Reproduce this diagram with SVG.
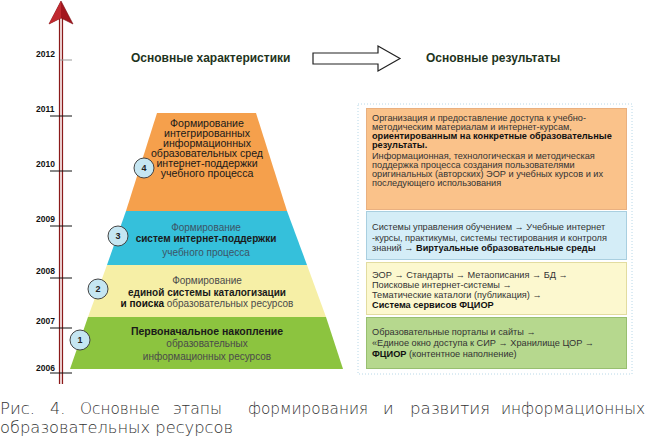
<svg xmlns="http://www.w3.org/2000/svg" width="650" height="440" viewBox="0 0 650 440">
<style>
.yr{font-family:"Liberation Sans",Arial,sans-serif;font-size:8.5px;font-weight:bold;fill:#111}
.tick{stroke:#111;stroke-width:1}
.hd{font-family:"Liberation Sans",Arial,sans-serif;font-size:12px;font-weight:bold;fill:#1e3320}
.pt{font-family:"Liberation Sans",Arial,sans-serif;text-anchor:middle}
.po{font-size:10.6px;fill:#1a1a1a}
.pr{font-size:10px;fill:#4a4a4a}
.pb{font-size:10px;font-weight:bold;fill:#1a1a1a}
.num{font-family:"Liberation Sans",Arial,sans-serif;font-size:9px;font-weight:bold;fill:#222;text-anchor:middle}
.circ{fill:#c5e6f2;stroke:#444;stroke-width:1}
.rt{font-family:"Liberation Sans",Arial,sans-serif;font-size:9.2px;fill:#333}
.b{font-weight:bold;fill:#111}
.cap{font-family:"DejaVu Sans","Liberation Sans",sans-serif;font-size:16px;fill:#333;font-weight:300}
</style>

<g id="timeline">
  <rect x="59" y="18" width="4" height="366" fill="#f4e3e3"/>
  <line x1="59.5" y1="18" x2="59.5" y2="384" stroke="#8b1a1a" stroke-width="1.2"/>
  <line x1="62.5" y1="18" x2="62.5" y2="384" stroke="#8b1a1a" stroke-width="1.2"/>
  <path d="M61,1 L73,24 L61,18 L49,24 Z" fill="#a3161e" stroke="#7a0f14" stroke-width="0.6"/>
  <path d="M61,1 L61,18 L49,24 Z" fill="#c02a30"/>
  <line x1="60" y1="60" x2="72" y2="60" stroke="#999" stroke-width="1"/>
  <line class="tick" x1="50" y1="116" x2="72" y2="116"/>
  <line class="tick" x1="50" y1="171" x2="72" y2="171"/>
  <line class="tick" x1="50" y1="226" x2="72" y2="226"/>
  <line class="tick" x1="50" y1="278" x2="72" y2="278"/>
  <line class="tick" x1="50" y1="328" x2="72" y2="328"/>
  <line class="tick" x1="50" y1="373" x2="72" y2="373"/>
  <text class="yr" x="36" y="57">2012</text>
  <text class="yr" x="36" y="112">2011</text>
  <text class="yr" x="36" y="167">2010</text>
  <text class="yr" x="36" y="222">2009</text>
  <text class="yr" x="36" y="274">2008</text>
  <text class="yr" x="36" y="324">2007</text>
  <text class="yr" x="36" y="371">2006</text>
</g>

<g id="header-left"><text class="hd" x="131" y="62">Основные характеристики</text></g>
<g id="header-right"><text class="hd" x="426" y="62">Основные результаты</text></g>

<g id="connectors">
  <polygon points="313,53 378,53 378,46 400,58.5 378,71 378,64 313,64" fill="#fff" stroke="#222" stroke-width="1.2"/>
</g>

<g id="stage4">
  <polygon points="157,113 256,113 287,211 126,211" fill="#f5a04c"/>
  <text class="pt po" x="207" y="127">Формирование</text>
  <text class="pt po" x="207" y="137">интегрированных</text>
  <text class="pt po" x="207" y="147">информационных</text>
  <text class="pt po" x="207" y="157">образовательных сред</text>
  <text class="pt po" x="207" y="167">интернет-поддержки</text>
  <text class="pt po" x="207" y="177">учебного процесса</text>
  <circle class="circ" cx="144" cy="168" r="10"/>
  <text class="num" x="144" y="171">4</text>
</g>

<g id="stage3">
  <polygon points="126,211 287,211 307,265 107,265" fill="#35c0db"/>
  <text class="pt pr" x="206" y="231" style="fill:#3c5466">Формирование</text>
  <text class="pt pb" x="206" y="242">систем интернет-поддержки</text>
  <text class="pt pr" x="206" y="255.5" style="fill:#3c5466">учебного  процесса</text>
  <circle class="circ" cx="118" cy="236" r="10"/>
  <text class="num" x="118" y="239">3</text>
</g>

<g id="stage2">
  <polygon points="107,265 307,265 326,317 88,317" fill="#f6efa6"/>
  <text class="pt pr" x="207" y="284">Формирование</text>
  <text class="pt pb" x="207" y="296">единой системы каталогизации</text>
  <text class="pt pr" x="207" y="307"><tspan class="b">и поиска</tspan> образовательных ресурсов</text>
  <circle class="circ" cx="98" cy="289" r="10"/>
  <text class="num" x="98" y="292">2</text>
</g>

<g id="stage1">
  <polygon points="88,317 326,317 343,369 70,369" fill="#8cc43f"/>
  <text class="pt pb" x="207" y="335" style="font-size:10.5px">Первоначальное накопление</text>
  <text class="pt pr" x="207" y="347">образовательных</text>
  <text class="pt pr" x="207" y="360">информационных ресурсов</text>
  <circle class="circ" cx="80" cy="340" r="10"/>
  <text class="num" x="80" y="343">1</text>
</g>

<rect x="358" y="104" width="274" height="270" fill="none" stroke="#b8d8e8" stroke-width="1" stroke-dasharray="1,2"/>

<g id="result4">
  <rect x="366.5" y="108.5" width="260" height="101" fill="#fac28a" stroke="#e9b080" stroke-width="1"/>
  <text class="rt" x="372" y="121">Организация и предоставление доступа к учебно-</text>
  <text class="rt" x="372" y="130">методическим материалам и интернет-курсам,</text>
  <text class="rt b" x="372" y="139">ориентированным на конкретные образовательные</text>
  <text class="rt b" x="372" y="148">результаты.</text>
  <text class="rt" x="372" y="158.5">Информационная, технологическая и методическая</text>
  <text class="rt" x="372" y="167.5">поддержка процесса создания пользователями</text>
  <text class="rt" x="372" y="176.5">оригинальных (авторских) ЭОР и учебных курсов и их</text>
  <text class="rt" x="372" y="185.5">последующего использования</text>
</g>

<g id="result3">
  <rect x="366.5" y="211.5" width="260" height="48" fill="#d4edf7" stroke="#a9cfe0" stroke-width="1"/>
  <text class="rt" x="372" y="230">Системы управления обучением → Учебные интернет</text>
  <text class="rt" x="372" y="240.5">-курсы, практикумы, системы тестирования и контроля</text>
  <text class="rt" x="372" y="251">знаний → <tspan class="b">Виртуальные образовательные среды</tspan></text>
</g>

<g id="result2">
  <rect x="366.5" y="262.5" width="260" height="52" fill="#fcf8cf" stroke="#e2dca0" stroke-width="1"/>
  <text class="rt" x="372" y="278">ЭОР → Стандарты → Метаописания → БД →</text>
  <text class="rt" x="372" y="288">Поисковые интернет-системы →</text>
  <text class="rt" x="372" y="298">Тематические каталоги (публикация) →</text>
  <text class="rt b" x="372" y="308">Система сервисов ФЦИОР</text>
</g>

<g id="result1">
  <rect x="366.5" y="317.5" width="260" height="51" fill="#b6d88e" stroke="#98bf70" stroke-width="1"/>
  <text class="rt" x="372" y="334.5">Образовательные порталы и сайты →</text>
  <text class="rt" x="372" y="345.5">«Единое окно доступа к СИР → Хранилище ЦОР →</text>
  <text class="rt" x="372" y="356.5"><tspan class="b">ФЦИОР</tspan> (контентное наполнение)</text>
</g>

<g id="caption">
  <text class="cap" x="0" y="414" textLength="35" lengthAdjust="spacingAndGlyphs">Рис.</text>
  <text class="cap" x="50" y="414">4.</text>
  <text class="cap" x="80" y="414" textLength="80" lengthAdjust="spacingAndGlyphs">Основные</text>
  <text class="cap" x="173" y="414" textLength="49" lengthAdjust="spacingAndGlyphs">этапы</text>
  <text class="cap" x="248" y="414" textLength="120" lengthAdjust="spacingAndGlyphs">формирования</text>
  <text class="cap" x="383" y="414">и</text>
  <text class="cap" x="410" y="414" textLength="80" lengthAdjust="spacingAndGlyphs">развития</text>
  <text class="cap" x="501" y="414" textLength="144" lengthAdjust="spacingAndGlyphs">информационных</text>
  <text class="cap" x="0" y="433" textLength="233" lengthAdjust="spacingAndGlyphs">образовательных ресурсов</text>
</g>
</svg>
